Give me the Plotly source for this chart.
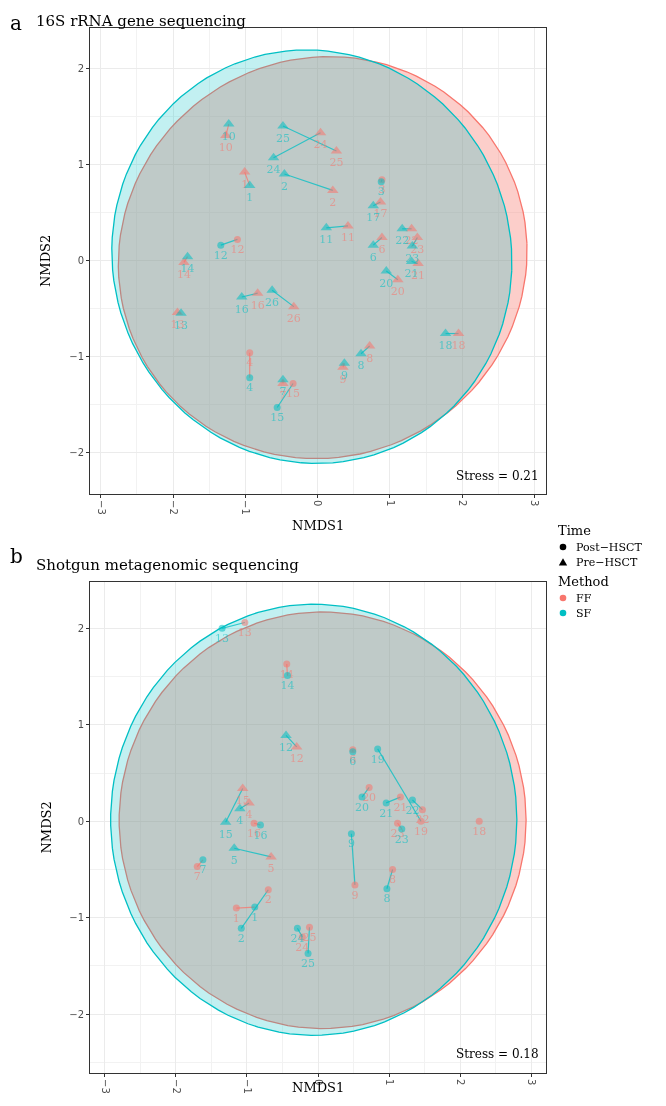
import numpy as np
import plotly.graph_objects as go

FF_COL = "#F8766D"
SF_COL = "#00BFC4"
SERIF = "DejaVu Serif"
SANS = "DejaVu Sans"

# ---------------- Panel a: 16S rRNA ----------------
a_sample = [10, 24, 25, 1, 2, 17, 11, 22, 23, 6, 21, 20, 18, 8, 9, 14, 16, 26, 13, 7,
            10, 25, 24, 1, 2, 11, 17, 22, 6, 23, 21, 20, 18, 8, 9, 14, 16, 26, 13, 7,
            3, 12, 4, 15,
            3, 12, 4, 15]
a_method = ["FF"] * 20 + ["SF"] * 20 + ["FF"] * 4 + ["SF"] * 4
a_time = ["Pre"] * 40 + ["Post"] * 8
a_x = [-1.27, 0.04, 0.26, -1.01, 0.21, 0.87, 0.42, 1.30, 1.38, 0.89, 1.39, 1.11, 1.95, 0.72, 0.35, -1.85, -0.83, -0.33, -1.94, -0.48,
       -1.23, -0.48, -0.61, -0.94, -0.46, 0.12, 0.77, 1.17, 0.77, 1.31, 1.30, 0.95, 1.77, 0.60, 0.37, -1.80, -1.05, -0.63, -1.89, -0.48,
       0.89, -1.11, -0.94, -0.34,
       0.88, -1.34, -0.94, -0.56]
a_y = [1.30, 1.33, 1.14, 0.92, 0.73, 0.61, 0.36, 0.33, 0.24, 0.24, -0.03, -0.20, -0.76, -0.89, -1.11, -0.02, -0.34, -0.48, -0.54, -1.28,
       1.42, 1.40, 1.07, 0.78, 0.90, 0.34, 0.57, 0.33, 0.16, 0.15, -0.01, -0.11, -0.76, -0.97, -1.07, 0.04, -0.38, -0.31, -0.55, -1.24,
       0.84, 0.22, -0.96, -1.28,
       0.82, 0.16, -1.22, -1.53]

# ---------------- Panel b: shotgun ----------------
b_sample = [13, 14, 16, 7, 2, 1, 25, 24, 6, 20, 21, 22, 19, 23, 18, 9, 8,
            13, 14, 16, 7, 2, 1, 24, 25, 6, 19, 20, 21, 22, 23, 9, 8,
            12, 15, 4, 5,
            12, 15, 4, 5]
b_method = ["FF"] * 17 + ["SF"] * 16 + ["FF"] * 4 + ["SF"] * 4
b_time = ["Post"] * 33 + ["Pre"] * 8
b_x = [-1.03, -0.44, -0.90, -1.70, -0.70, -1.15, -0.12, -0.22, 0.49, 0.72, 1.16, 1.47, 1.45, 1.12, 2.27, 0.52, 1.05,
       -1.35, -0.43, -0.81, -1.62, -1.08, -0.89, -0.29, -0.14, 0.49, 0.84, 0.62, 0.96, 1.33, 1.18, 0.47, 0.97,
       -0.30, -1.06, -0.97, -0.66,
       -0.45, -1.30, -1.10, -1.18]
b_y = [2.06, 1.63, -0.02, -0.47, -0.71, -0.90, -1.10, -1.20, 0.74, 0.35, 0.25, 0.12, 0.00, -0.02, 0.00, -0.66, -0.50,
       2.00, 1.51, -0.04, -0.40, -1.11, -0.89, -1.11, -1.37, 0.72, 0.75, 0.25, 0.19, 0.22, -0.08, -0.13, -0.70,
       0.77, 0.34, 0.19, -0.37,
       0.89, -0.01, 0.13, -0.28]

# ellipse parameters [FF, SF]: centre x, centre y, semi-axis x, semi-axis y, angle (deg)
a_ell_cx = [0.07, -0.08]
a_ell_cy = [0.03, 0.04]
a_ell_rx = [2.83, 2.77]
a_ell_ry = [2.09, 2.15]
a_ell_ang = [3.0, -3.0]
b_ell_cx = [0.065, -0.06]
b_ell_cy = [0.01, 0.015]
b_ell_rx = [2.865, 2.86]
b_ell_ry = [2.16, 2.235]
b_ell_ang = [0.0, 0.0]

a_stress = "Stress = 0.21"
b_stress = "Stress = 0.18"
methods = ["FF", "SF"]
ticks_x = [-3, -2, -1, 0, 1, 2, 3]
ticks_y = [-2, -1, 0, 1, 2]

# legend content
time_title = "Time"
time_labels = ["Post−HSCT", "Pre−HSCT"]
method_title = "Method"
method_labels = ["FF", "SF"]

# page body has an 8px margin; size the figure so it fills the 666x1106 window exactly
OFF = 8
W, H = 650, 1089
fig = go.Figure()
col = {"FF": FF_COL, "SF": SF_COL}
fill = {"FF": "rgba(248,118,109,0.36)", "SF": "rgba(0,191,196,0.24)"}


def fx(p):
    return (p - OFF) / W


def fy(p):
    return 1 - (p - OFF) / H


def add_panel(xa, ya, sample, method, time, xs, ys, ecx, ecy, erx, ery, eang):
    t = np.linspace(0, 2 * np.pi, 120)
    for i, m in enumerate(methods):
        th = np.deg2rad(eang[i])
        ex = ecx[i] + erx[i] * np.cos(t) * np.cos(th) - ery[i] * np.sin(t) * np.sin(th)
        ey = ecy[i] + erx[i] * np.cos(t) * np.sin(th) + ery[i] * np.sin(t) * np.cos(th)
        fig.add_trace(go.Scatter(x=ex, y=ey, mode="lines", fill="toself", fillcolor=fill[m],
                                 line=dict(color=col[m], width=1.3), xaxis=xa, yaxis=ya,
                                 showlegend=False, hoverinfo="skip"))
    # connecting lines between FF and SF of the same sample/time
    for s, tm in sorted(set(zip(sample, time))):
        idx = [k for k in range(len(sample)) if sample[k] == s and time[k] == tm]
        if len(idx) < 2:
            continue
        idx.sort(key=lambda k: xs[k])
        c = col[method[idx[0]]]
        fig.add_trace(go.Scatter(x=[xs[k] for k in idx], y=[ys[k] for k in idx], mode="lines",
                                 line=dict(color=c, width=1.2), opacity=0.75,
                                 xaxis=xa, yaxis=ya, showlegend=False, hoverinfo="skip"))
    for m in methods:
        for tm, sym, sz in [("Post", "circle", 7), ("Pre", "triangle-up", 10)]:
            idx = [k for k in range(len(sample)) if method[k] == m and time[k] == tm]
            if not idx:
                continue
            fig.add_trace(go.Scatter(
                x=[xs[k] for k in idx], y=[ys[k] for k in idx], mode="markers+text",
                text=[str(sample[k]) for k in idx], textposition="bottom center",
                textfont=dict(family=SERIF, size=11, color=col[m]),
                marker=dict(symbol=sym, size=sz, color=col[m], line=dict(width=0)),
                opacity=0.55, xaxis=xa, yaxis=ya, showlegend=False, hoverinfo="skip"))


add_panel("x", "y", a_sample, a_method, a_time, a_x, a_y, a_ell_cx, a_ell_cy, a_ell_rx, a_ell_ry, a_ell_ang)
add_panel("x2", "y2", b_sample, b_method, b_time, b_x, b_y, b_ell_cx, b_ell_cy, b_ell_rx, b_ell_ry, b_ell_ang)

xdom = [fx(90), fx(546)]

axis_common = dict(showline=True, mirror=True, linecolor="#333333", linewidth=1,
                   ticks="outside", ticklen=3, tickcolor="#333333", zeroline=False,
                   showgrid=True, gridcolor="#EBEBEB", gridwidth=1,
                   tickfont=dict(family=SANS, size=10, color="#4D4D4D"))
minor = dict(dtick=0.5, showgrid=True, gridcolor="#F2F2F2", gridwidth=1, ticks="")

fig.update_layout(
    width=W, height=H, margin=dict(l=0, r=0, t=0, b=0),
    paper_bgcolor="white", plot_bgcolor="white", showlegend=False,
    xaxis=dict(domain=xdom, anchor="y", range=[-3.15, 3.16], tickvals=ticks_x, tickangle=90,
               minor=minor, **axis_common),
    yaxis=dict(domain=[fy(494), fy(28)], anchor="x", range=[-2.43, 2.42], tickvals=ticks_y,
               minor=minor, **axis_common),
    xaxis2=dict(domain=xdom, anchor="y2", range=[-3.21, 3.21], tickvals=ticks_x, tickangle=90,
                minor=minor, **axis_common),
    yaxis2=dict(domain=[fy(1073), fy(582)], anchor="x2", range=[-2.61, 2.48], tickvals=ticks_y,
                minor=minor, **axis_common),
)

ann = []
shapes = []
ann.append(dict(text="a", x=fx(8), y=fy(9), xref="paper", yref="paper", showarrow=False,
                xanchor="left", yanchor="top", font=dict(family=SERIF, size=20, color="black")))
ann.append(dict(text="16S rRNA gene sequencing", x=fx(34), y=fy(10), xref="paper", yref="paper",
                showarrow=False, xanchor="left", yanchor="top",
                font=dict(family=SERIF, size=15, color="black")))
ann.append(dict(text="b", x=fx(8), y=fy(542), xref="paper", yref="paper", showarrow=False,
                xanchor="left", yanchor="top", font=dict(family=SERIF, size=20, color="black")))
ann.append(dict(text="Shotgun metagenomic sequencing", x=fx(34), y=fy(565), xref="paper", yref="paper",
                showarrow=False, xanchor="left", yanchor="middle",
                font=dict(family=SERIF, size=15, color="black")))
for xr, yr, txt, ytitle, y0, y1, xt, anch in [("x domain", "y domain", a_stress, 525, 28, 494, "NMDS1", "middle"),
                                              ("x2 domain", "y2 domain", b_stress, 1097, 582, 1073, "NMDS1", "bottom")]:
    ann.append(dict(text=txt, x=0.99, y=0.02, xref=xr, yref=yr, showarrow=False,
                    xanchor="right", yanchor="bottom", font=dict(family=SERIF, size=12, color="black")))
    ann.append(dict(text=xt, x=fx(318), y=fy(ytitle), xref="paper", yref="paper", showarrow=False,
                    xanchor="center", yanchor=anch, font=dict(family=SERIF, size=13, color="black")))
    ann.append(dict(text="NMDS2", x=fx(46), y=fy((y0 + y1) / 2), xref="paper", yref="paper",
                    showarrow=False, textangle=-90, xanchor="center", yanchor="middle",
                    font=dict(family=SERIF, size=13, color="black")))

# ---- hand-built legend (ggplot style) ----
LX_TITLE, LX_KEY, LX_TEXT = 556, 563, 574
legend_rows = [("title", time_title, None, 530),
               ("circle", time_labels[0], "black", 547),
               ("triangle", time_labels[1], "black", 562),
               ("title", method_title, None, 581),
               ("circle", method_labels[0], FF_COL, 598),
               ("circle", method_labels[1], SF_COL, 613)]
for kind, label, c, yy in legend_rows:
    if kind == "title":
        ann.append(dict(text=label, x=fx(LX_TITLE), y=fy(yy), xref="paper", yref="paper",
                        showarrow=False, xanchor="left", yanchor="middle",
                        font=dict(family=SERIF, size=13, color="black")))
        continue
    ann.append(dict(text=label, x=fx(LX_TEXT), y=fy(yy), xref="paper", yref="paper",
                    showarrow=False, xanchor="left", yanchor="middle",
                    font=dict(family=SERIF, size=11, color="black")))
    if kind == "circle":
        r = 3.3
        shapes.append(dict(type="circle", xref="paper", yref="paper",
                           x0=fx(LX_KEY - r), x1=fx(LX_KEY + r), y0=fy(yy + r), y1=fy(yy - r),
                           fillcolor=c, line=dict(width=0)))
    else:
        hw = 4.2
        path = (f"M {fx(LX_KEY - hw)},{fy(yy + 3.6)} L {fx(LX_KEY + hw)},{fy(yy + 3.6)} "
                f"L {fx(LX_KEY)},{fy(yy - 3.8)} Z")
        shapes.append(dict(type="path", xref="paper", yref="paper", path=path,
                           fillcolor=c, line=dict(width=0)))

fig.update_layout(annotations=ann, shapes=shapes)

fig.write_html("out.html")
